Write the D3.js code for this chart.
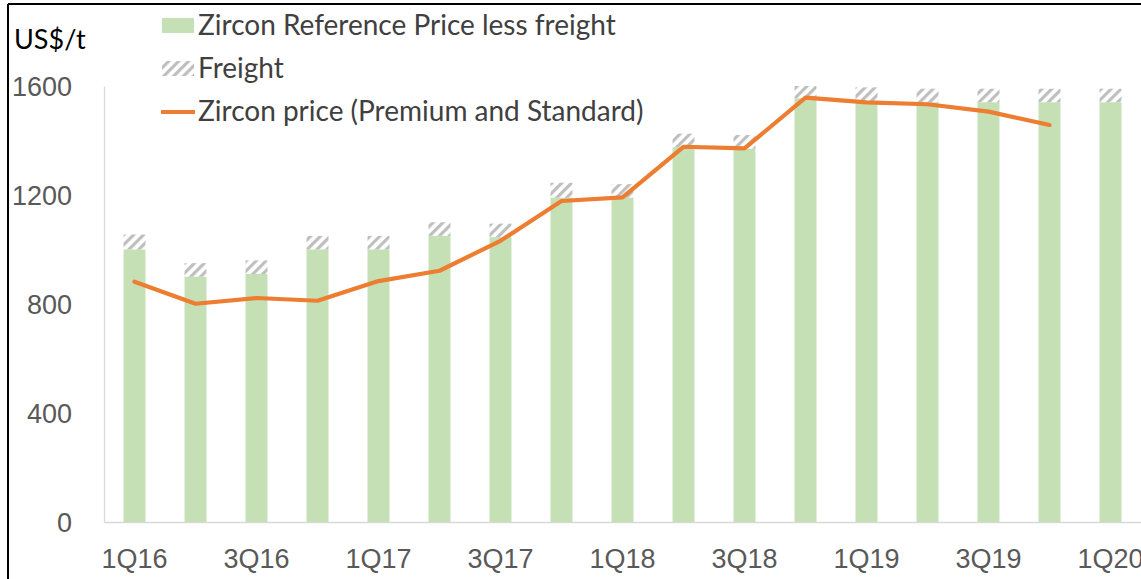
<!DOCTYPE html>
<html>
<head>
<meta charset="utf-8">
<script src="https://cdn.jsdelivr.net/npm/d3@7"></script>
<style>
body { margin: 0; background: #fff; }
svg { display: block; font-family: Lato, "Open Sans", sans-serif; }
</style>
</head>
<body>
<div id="chart"></div>
<script>
var quarters = ["1Q16","2Q16","3Q16","4Q16","1Q17","2Q17","3Q17","4Q17","1Q18","2Q18","3Q18","4Q18","1Q19","2Q19","3Q19","4Q19","1Q20"];
var refLessFreight = [1000, 900, 910, 1000, 1000, 1050, 1045, 1190, 1190, 1375, 1370, 1555, 1545, 1540, 1540, 1540, 1540];
var freight = [55, 50, 50, 50, 50, 50, 50, 55, 50, 50, 50, 45, 50, 50, 50, 50, 50];
var zirconPrice = [882, 801, 822, 812, 884, 922, 1032, 1178, 1191, 1377, 1371, 1557, 1540, 1533, 1506, 1457];
var yTicks = [0, 400, 800, 1200, 1600];
var xLabels = ["1Q16","3Q16","1Q17","3Q17","1Q18","3Q18","1Q19","3Q19","1Q20"];

var svgWidth = 1141, svgHeight = 579;
var plotLeft = 104, plotRight = 1141, plotTop = 86, plotBottom = 522;

var svg = d3.select("#chart").append("svg").attr("width", svgWidth).attr("height", svgHeight);

var defs = svg.append("defs");
var pat = defs.append("pattern").attr("id", "hatch").attr("patternUnits", "userSpaceOnUse")
	.attr("width", 7).attr("height", 7).attr("patternTransform", "rotate(45)");
pat.append("rect").attr("width", 3.2).attr("height", 7).attr("fill", "#bfbfbf");

var x = d3.scaleBand().domain(quarters).range([plotLeft, plotRight]).paddingInner(0.64).paddingOuter(0.32);
var y = d3.scaleLinear().domain([0, 1600]).range([plotBottom, plotTop]);

// axes
var yAxis = svg.append("g").attr("transform", `translate(${plotLeft},0)`)
	.call(d3.axisLeft(y).tickValues(yTicks).tickSize(0).tickPadding(32).tickFormat(d3.format("d")));
yAxis.select(".domain").attr("stroke", "#d9d9d9").attr("stroke-width", 1.3);
yAxis.selectAll("text").attr("fill", "#595959").style("font-size", "27px").attr("dy", "0.35em");

var xAxis = svg.append("g").attr("transform", `translate(0,${plotBottom})`)
	.call(d3.axisBottom(x).tickSize(0).tickPadding(27).tickFormat(d => xLabels.indexOf(d) >= 0 ? d : ""));
xAxis.select(".domain").attr("stroke", "#d9d9d9").attr("stroke-width", 1.3);
xAxis.selectAll("text").attr("fill", "#595959").style("font-size", "27px");

// bars
svg.selectAll(".bar").data(quarters).enter().append("rect").attr("class", "bar")
	.attr("x", d => x(d)).attr("width", x.bandwidth())
	.attr("y", (d, i) => y(refLessFreight[i]))
	.attr("height", (d, i) => y(0) - y(refLessFreight[i]))
	.attr("fill", "#c5e0b4");

svg.selectAll(".freight").data(quarters).enter().append("rect").attr("class", "freight")
	.attr("x", d => x(d)).attr("width", x.bandwidth())
	.attr("y", (d, i) => y(refLessFreight[i] + freight[i]))
	.attr("height", (d, i) => y(refLessFreight[i]) - y(refLessFreight[i] + freight[i]))
	.attr("fill", "url(#hatch)");

// line
var line = d3.line().x((d, i) => x(quarters[i]) + x.bandwidth() / 2).y(d => y(d));
svg.append("path").datum(zirconPrice).attr("d", line)
	.attr("fill", "none").attr("stroke", "#ed7d31").attr("stroke-width", 4.2)
	.attr("stroke-linejoin", "round").attr("stroke-linecap", "round");

// unit label
svg.append("text").attr("x", 14).attr("y", 40).attr("dy", "0.35em").text("US$/t")
	.style("font-size", "27px").attr("fill", "#000");

// legend
var legend = svg.append("g");
legend.append("rect").attr("x", 162).attr("y", 18).attr("width", 32).attr("height", 15).attr("fill", "#c5e0b4");
legend.append("rect").attr("x", 162).attr("y", 61).attr("width", 32).attr("height", 15).attr("fill", "url(#hatch)");
legend.append("line").attr("x1", 161).attr("x2", 195).attr("y1", 112).attr("y2", 112)
	.attr("stroke", "#ed7d31").attr("stroke-width", 4);
var legendText = ["Zircon Reference Price less freight", "Freight", "Zircon price (Premium and Standard)"];
legend.selectAll(".lt").data(legendText).enter().append("text").attr("class", "lt")
	.attr("x", 198).attr("y", (d, i) => 25 + i * 43).attr("dy", "0.35em")
	.text(d => d).style("font-size", "28px").attr("fill", "#404040");

// frame
svg.append("line").attr("x1", 8).attr("x2", 1141).attr("y1", 4).attr("y2", 4).attr("stroke", "#000").attr("stroke-width", 2);
svg.append("line").attr("x1", 8).attr("x2", 8).attr("y1", 4).attr("y2", 579).attr("stroke", "#000").attr("stroke-width", 2);
</script>
</body>
</html>
